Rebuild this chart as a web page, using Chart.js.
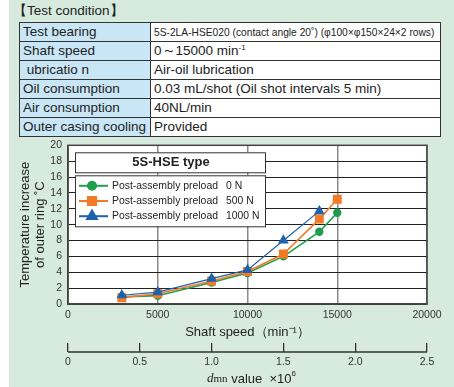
<!DOCTYPE html>
<html>
<head>
<meta charset="utf-8">
<script src="https://cdn.jsdelivr.net/npm/chart.js@4.4.1/dist/chart.umd.min.js"></script>
<style>
  html, body { margin: 0; padding: 0; background: #fff; }
  body { width: 454px; height: 387px; position: relative; overflow: hidden;
         font-family: "Liberation Sans", Arial, sans-serif; color: #222; }
  #panel { position: absolute; left: 9px; top: 0; width: 445px; height: 387px; background: #d6eadd; }
  #caption { position: absolute; left: 13px; top: 3px; font-size: 13.5px; line-height: 16px; }
  #cond { position: absolute; left: 19px; top: 22px; width: 422px; border-collapse: collapse;
          table-layout: fixed; font-size: 13.5px; border: 1.5px solid #333; }
  #cond tr { height: 19px; }
  #cond td { border: 1px solid #333; padding: 0 0 0 3px; white-space: nowrap; line-height: 16px; overflow: hidden; }
  #cond td.k { background: #c8e6f6; width: 127px; }
  #cond td.v { background: #fff; }
  .narrow { display: inline-block; font-size: 11.5px; transform: scaleX(0.89); transform-origin: 0 50%; }
  sup { font-size: 8px; line-height: 0; }
  #chartBox { position: absolute; left: 9px; top: 133px; width: 445px; height: 254px; }
</style>
</head>
<body>
<div id="panel"></div>
<div id="caption">【Test condition】</div>
<table id="cond">
  <tr><td class="k">Test bearing</td><td class="v"><span class="narrow">5S-2LA-HSE020 (contact angle 20˚) (φ100×φ150×24×2 rows)</span></td></tr>
  <tr><td class="k">Shaft speed</td><td class="v">0～15000 min<sup>-1</sup></td></tr>
  <tr><td class="k">&nbsp;ubricatio n</td><td class="v">Air-oil lubrication</td></tr>
  <tr><td class="k">Oil consumption</td><td class="v">0.03 mL/shot (Oil shot intervals 5 min)</td></tr>
  <tr><td class="k">Air consumption</td><td class="v">40NL/min</td></tr>
  <tr><td class="k">Outer casing cooling</td><td class="v">Provided</td></tr>
</table>
<div id="chartBox"><canvas id="myChart" width="445" height="254"></canvas></div>

<script>
// shaft speed (min-1) of each measurement
const speeds = [3000, 5000, 8000, 10000, 12000, 14000, 15000];

// outer ring temperature rise (deg C)
const preload0 = [0.9, 1.05, 2.7, 3.9, 6.0, 9.1, 11.5];
const preload500 = [0.8, 1.3, 2.9, 4.1, 6.3, 10.7, 13.2];
const preload1000 = [1.1, 1.5, 3.2, 4.3, 8.0, 11.7];

const legendPrefix = 'Post-assembly preload';
const preloadNames = ['0 N', '500 N', '1000 N'];
const legendTitle = '5S-HSE type';

const speedTicks = [0, 5000, 10000, 15000, 20000];
const tempTicks = [0, 2, 4, 6, 8, 10, 12, 14, 16, 18, 20];
const dmnTicks = [0, 0.5, 1.0, 1.5, 2.0, 2.5];

const FONT = '"Liberation Sans", Arial, sans-serif';

function toPoints(values) {
  return values.map((v, i) => ({x: speeds[i], y: v}));
}

// white plot background, frame, dmn axis line, legend boxes, dmn title
const decorations = {
  id: 'decorations',
  beforeDraw(chart) {
    const {ctx, chartArea: a} = chart;
    ctx.save();
    ctx.fillStyle = '#fff';
    ctx.fillRect(a.left, a.top, a.right - a.left, a.bottom - a.top);
    ctx.restore();
  },
  beforeDatasetsDraw(chart) {
    const {ctx, chartArea: a} = chart;
    ctx.save();
    ctx.strokeStyle = '#444';
    ctx.lineWidth = 1.5;
    ctx.strokeRect(a.left, a.top, a.right - a.left, a.bottom - a.top);

    // dmn axis base line, under its tick marks
    const s = chart.scales.x2;
    const ly = s.top + 9;
    ctx.strokeStyle = '#333';
    ctx.lineWidth = 1.3;
    ctx.beginPath();
    ctx.moveTo(s.left, ly);
    ctx.lineTo(s.right, ly);
    ctx.stroke();

    // dmn title
    const cx = (a.left + a.right) / 2 + 4;
    const ty = s.bottom - 8;
    const parts = [
      {t: 'd', f: 'italic 13px "Liberation Serif", serif'},
      {t: 'mn', f: '11px "Liberation Serif", serif'},
      {t: ' value  ×10', f: '13px ' + FONT},
      {t: '6', f: '8px ' + FONT, dy: -5}
    ];
    let total = 0;
    parts.forEach(p => { ctx.font = p.f; p.w = ctx.measureText(p.t).width; total += p.w; });
    let x = cx - total / 2;
    ctx.fillStyle = '#222';
    ctx.textBaseline = 'middle';
    parts.forEach(p => { ctx.font = p.f; ctx.fillText(p.t, x, ty + (p.dy || 0)); x += p.w; });

    // title box
    const bx = a.left + 7, bw = 190;
    ctx.fillStyle = '#fff';
    ctx.strokeStyle = '#333';
    ctx.lineWidth = 1;
    ctx.fillRect(bx, a.top + 7, bw, 20);
    ctx.strokeRect(bx + 0.5, a.top + 7.5, bw, 20);
    ctx.fillStyle = '#222';
    ctx.font = 'bold 13px ' + FONT;
    ctx.textAlign = 'center';
    ctx.fillText(legendTitle, bx + bw / 2 + 1, a.top + 17.5);

    // legend box
    const top = a.top + 30;
    ctx.fillStyle = '#fff';
    ctx.fillRect(bx, top, bw, 51);
    ctx.strokeRect(bx + 0.5, top + 0.5, bw, 51);
    ctx.textAlign = 'left';
    chart.data.datasets.forEach((ds, i) => {
      const y = top + 10.5 + i * 15.2;
      ctx.strokeStyle = ds.borderColor;
      ctx.lineWidth = 2;
      ctx.beginPath();
      ctx.moveTo(bx + 4, y);
      ctx.lineTo(bx + 33, y);
      ctx.stroke();
      Chart.helpers.drawPoint(ctx, {
        pointStyle: ds.pointStyle, radius: ds.pointRadius + 0.6, rotation: 0, borderWidth: 1
      }, bx + 17, y);
      ctx.fillStyle = ds.borderColor;
      ctx.fill();
      ctx.fillStyle = '#222';
      ctx.font = '11.5px ' + FONT;
      const w = ctx.measureText(legendPrefix).width;
      ctx.save();
      ctx.translate(bx + 37, y);
      ctx.scale(106 / w, 1);
      ctx.fillText(legendPrefix, 0, 0);
      ctx.restore();
      ctx.save();
      ctx.translate(bx + 151, y);
      ctx.scale(0.9, 1);
      ctx.fillText(preloadNames[i], 0, 0);
      ctx.restore();
    });
    ctx.restore();
  }
};

const ctx = document.getElementById('myChart').getContext('2d');
new Chart(ctx, {
  type: 'line',
  data: {
    datasets: [
      {label: legendPrefix + '  ' + preloadNames[0], data: toPoints(preload0),
       borderColor: '#1f9e4e', backgroundColor: '#1f9e4e', borderWidth: 1.6,
       pointStyle: 'circle', pointRadius: 3.4, order: 2},
      {label: legendPrefix + '  ' + preloadNames[1], data: toPoints(preload500),
       borderColor: '#f37a26', backgroundColor: '#f37a26', borderWidth: 1.6,
       pointStyle: 'rect', pointRadius: 5.2, order: 1},
      {label: legendPrefix + '  ' + preloadNames[2], data: toPoints(preload1000),
       borderColor: '#1d62ae', backgroundColor: '#1d62ae', borderWidth: 1.2,
       pointStyle: 'triangle', pointRadius: 5, order: 0}
    ]
  },
  options: {
    responsive: false,
    animation: false,
    devicePixelRatio: 1,
    layout: {padding: {top: 0, right: 27, left: 0, bottom: 0}},
    plugins: {legend: {display: false}, tooltip: {enabled: false}},
    elements: {line: {tension: 0}, point: {borderWidth: 0}},
    scales: {
      x: {
        type: 'linear', position: 'bottom', min: 0, max: 20000, weight: 0,
        afterBuildTicks: s => { s.ticks = speedTicks.map(v => ({value: v})); },
        afterFit: s => { s.height = 39; },
        grid: {color: '#8a8a8a', lineWidth: 1.5, drawTicks: false},
        border: {color: '#444', width: 1.5},
        ticks: {padding: 5, autoSkip: false, color: '#333', font: {family: FONT, size: 10.5},
                callback: v => String(v)},
        title: {display: true, text: 'Shaft speed（min⁻¹）', color: '#222',
                font: {family: FONT, size: 13}, padding: {top: 4, bottom: 3}}
      },
      x2: {
        type: 'linear', position: 'bottom', min: 0, max: 2.5, weight: 1,
        afterBuildTicks: s => { s.ticks = dmnTicks.map(v => ({value: v})); },
        afterFit: s => { s.height = 44; },
        grid: {drawOnChartArea: false, drawTicks: true, tickLength: 9, color: '#333', lineWidth: 1.3},
        border: {display: false},
        ticks: {padding: 4, autoSkip: false, color: '#333', font: {family: FONT, size: 10.5},
                callback: v => v === 0 ? '0' : v.toFixed(1)},
        title: {display: false}
      },
      y: {
        min: 0, max: 20,
        afterBuildTicks: s => { s.ticks = tempTicks.map(v => ({value: v})); },
        afterFit: s => { s.width = 59; },
        grid: {color: '#222', lineWidth: 1, drawTicks: false},
        border: {color: '#444', width: 1.5},
        ticks: {padding: 6, autoSkip: false, color: '#333', font: {family: FONT, size: 10.5}},
        title: {display: true, text: ['Temperature increase', 'of outer ring ˚C'], color: '#222',
                font: {family: FONT, size: 13, lineHeight: 1.15}, padding: {top: 8.5, bottom: 0}}
      }
    }
  },
  plugins: [decorations]
});
</script>
</body>
</html>
